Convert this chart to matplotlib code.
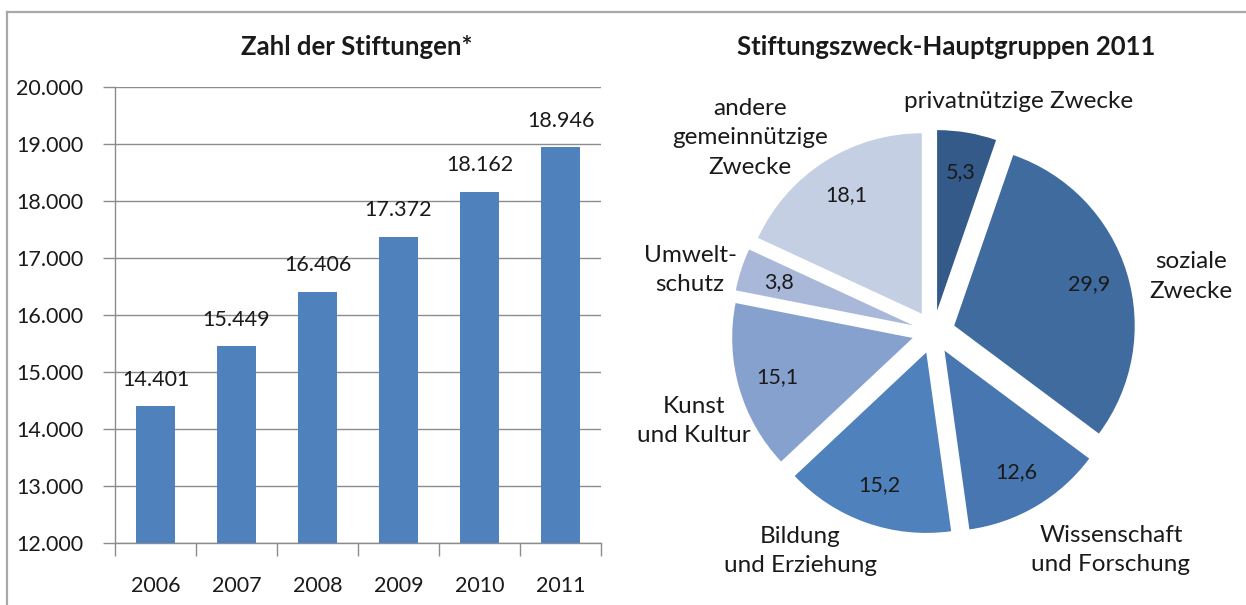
import matplotlib
matplotlib.use("Agg")
import matplotlib.pyplot as plt
import numpy as np
from matplotlib.lines import Line2D

# ---------------- data ----------------
years = ["2006", "2007", "2008", "2009", "2010", "2011"]
counts = [14401, 15449, 16406, 17372, 18162, 18946]
y_ticks = [12000, 13000, 14000, 15000, 16000, 17000, 18000, 19000, 20000]

purposes = ["privatnützige Zwecke", "soziale\nZwecke", "Wissenschaft\nund Forschung",
            "Bildung\nund Erziehung", "Kunst\nund Kultur", "Umwelt-\nschutz",
            "andere\ngemeinnützige\nZwecke"]
shares = [5.3, 29.9, 12.6, 15.2, 15.1, 3.8, 18.1]

# ---------------- style ----------------
plt.rcParams['font.family'] = ['Lato', 'DejaVu Sans']
TXT = '#1a1a1a'
GRID = '#8c8c8c'
BAR = '#4f81bd'
pie_colors = ['#345a8a', '#3f6b9f', '#4876b0', '#4f81bd', '#87a1cf', '#a9b8d9', '#c5cfe3']
FS = 15.5      # numbers
FS_LAB = 17.5  # pie category labels
FS_TITLE = 18.5


def de_int(v):
    return f"{v:,}".replace(",", ".")


def de_dec(v):
    return f"{v:.1f}".replace(".", ",")


W, H = 1246, 605
fig = plt.figure(figsize=(W / 100, H / 100), dpi=100)

# frame lines of the chart area
fig.add_artist(Line2D([7 / W, 1], [1 - 12 / H, 1 - 12 / H], color='#a8a8a8', lw=1.6,
                      transform=fig.transFigure))
fig.add_artist(Line2D([7 / W, 7 / W], [0, 1 - 12 / H], color='#a8a8a8', lw=1.6,
                      transform=fig.transFigure))

# ---------------- bar chart ----------------
ax = fig.add_axes([115 / W, 62 / H, 486 / W, 456 / H])
x = np.arange(len(years))
ax.bar(x, counts, width=0.49, color=BAR, zorder=3)
ax.set_ylim(y_ticks[0], y_ticks[-1])
ax.set_xlim(-0.5, len(years) - 0.5)
ax.set_yticks(y_ticks)
ax.set_yticklabels([de_int(v) for v in y_ticks], fontsize=FS, color=TXT)
ax.yaxis.grid(True, color=GRID, lw=1.0, zorder=0)
ax.tick_params(axis='y', length=9, width=1.0, color=GRID, pad=14)
ax.set_xticks(np.arange(len(years) + 1) - 0.5)
ax.set_xticklabels([])
ax.tick_params(axis='x', which='major', length=9, width=1.0, color=GRID)
ax.set_xticks(x, minor=True)
ax.set_xticklabels(years, minor=True, fontsize=FS, color=TXT)
ax.tick_params(axis='x', which='minor', length=0, pad=24)
for s in ['top', 'right']:
    ax.spines[s].set_visible(False)
for s in ['left', 'bottom']:
    ax.spines[s].set_color(GRID)
    ax.spines[s].set_linewidth(1.0)
for xi, v in zip(x, counts):
    ax.annotate(de_int(v), (xi, v), xytext=(0, 19), textcoords='offset points',
                ha='center', va='center', fontsize=FS, color=TXT)
fig.text(357 / W, 1 - 47 / H, "Zahl der Stiftungen*", ha='center', va='center',
         fontsize=FS_TITLE, fontweight='bold', color=TXT)

# ---------------- pie chart ----------------
R = 180.5
cx, cy = 933.5, 332.0
ax2 = fig.add_axes([620 / W, 0, 626 / W, 545 / H])
wedges, _ = ax2.pie(shares, startangle=90, counterclock=False, colors=pie_colors,
                    explode=[0.12] * len(shares), radius=1.0,
                    wedgeprops=dict(linewidth=0))
ax2.set_aspect('auto')
ax2.set_xlim((620 - cx) / R, (W - cx) / R)
ax2.set_ylim((cy - H) / R, (cy - 60) / R)
ax2.axis('off')

for w, s in zip(wedges, shares):
    th = np.deg2rad((w.theta1 + w.theta2) / 2)
    c = w.center
    ax2.text(c[0] + 0.78 * np.cos(th), c[1] + 0.78 * np.sin(th), de_dec(s),
             ha='center', va='center', fontsize=FS, color=TXT)

label_xy = [(0.472, 1.275), (1.428, 0.308), (0.983, -1.208), (-0.739, -1.214),
            (-1.327, -0.493), (-1.349, 0.343), (-1.017, 1.075)]
for lab, (lx, ly) in zip(purposes, label_xy):
    ax2.text(lx, ly, lab, ha='center', va='center', multialignment='center',
             fontsize=FS_LAB, color=TXT, linespacing=1.5)

fig.text(946 / W, 1 - 47 / H, "Stiftungszweck-Hauptgruppen 2011", ha='center',
         va='center', fontsize=FS_TITLE, fontweight='bold', color=TXT)

fig.savefig("out.png", dpi=100)
